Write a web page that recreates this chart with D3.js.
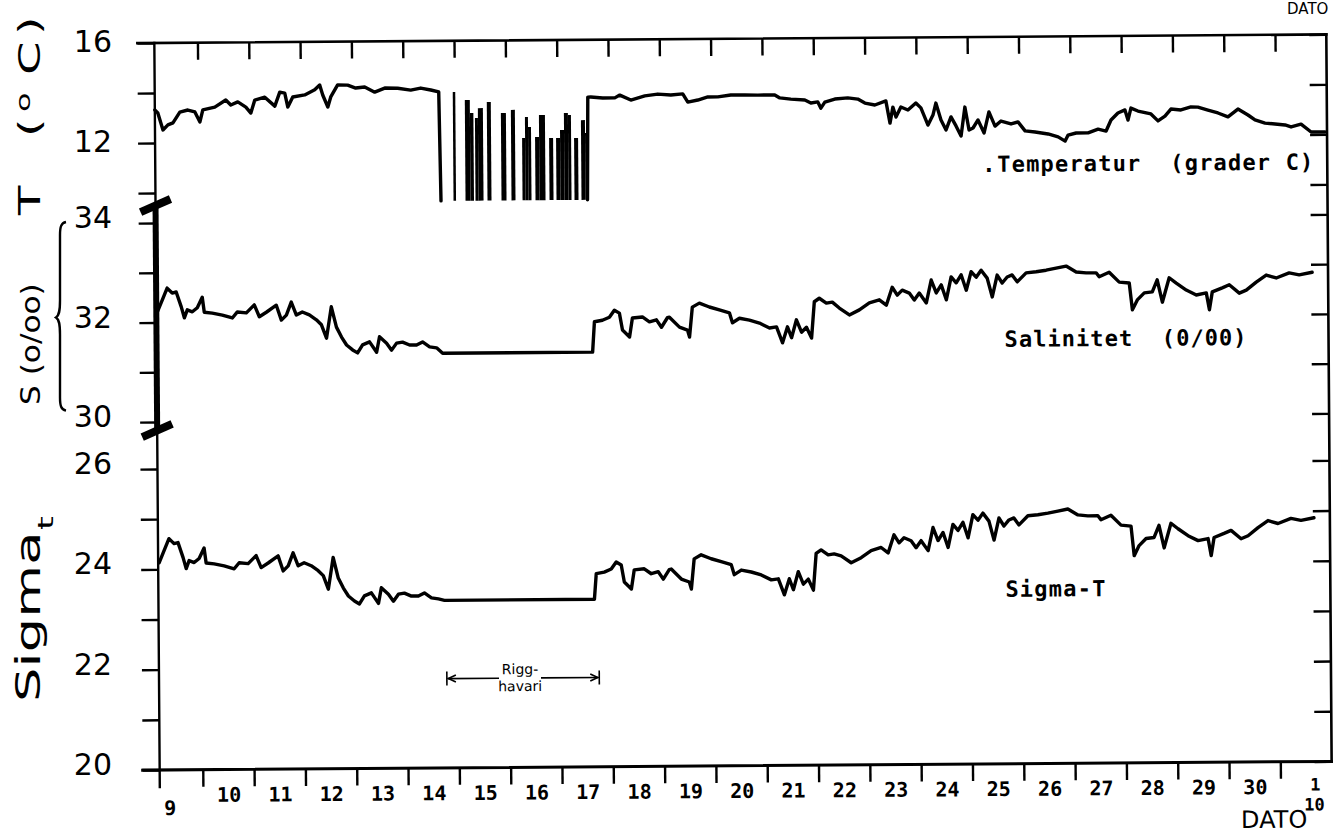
<!DOCTYPE html>
<html><head><meta charset="utf-8">
<script src="https://cdn.jsdelivr.net/npm/d3@7"></script>
<style>
body{margin:0;background:#fff}
svg{display:block}
text{white-space:pre}
</style>
</head><body>
<svg id="chart" width="1333" height="833"></svg>
<script>
// ---------------- data ----------------
// time axis: day of September (Oct 1 = 31, Oct 2 = 32)
const dayTicks = d3.range(10, 32);             // midnight day boundaries
const dateLabels = ["10","11","12","13","14","15","16","17","18","19","20","21","22","23","24","25","26","27","28","29","30"];
const tempTicks = [16, 14, 12, 10];
const tempLabels = [16, 12];
const salTicks = [34, 33, 32, 31, 30];
const salLabels = [34, 32, 30];
const sigTicks = [26, 25, 24, 23, 22, 21, 20];
const sigLabels = [26, 24, 22, 20];
const riggPeriod = [14.77, 17.74];              // "Rigg-havari" (rig breakdown)

// Temperature (deg C); null = break in record
const temperature = [
 [9.160,13.32],[9.218,13.20],[9.316,12.52],[9.413,12.72],[9.511,12.80],[9.647,13.23],[9.803,13.31],[9.940,13.23],[10.037,12.83],[10.095,13.31],
 [10.329,13.42],[10.544,13.70],[10.641,13.50],[10.778,13.62],[10.934,13.41],[11.031,13.17],[11.109,13.69],[11.304,13.80],[11.499,13.44],[11.597,14.00],
 [11.694,13.96],[11.752,13.40],[11.850,13.80],[12.083,13.88],[12.278,14.08],[12.376,14.27],[12.434,13.87],[12.532,13.39],[12.590,13.79],[12.726,14.27],
 [12.921,14.26],[13.077,14.14],[13.253,14.18],[13.448,13.97],[13.643,14.13],[13.896,14.12],[14.149,14.04],[14.344,14.12],[14.539,14.04],[14.695,13.96],[14.724,9.6],
 null,
 [17.579,9.6],[17.599,13.71],[17.657,13.71],[17.891,13.67],[18.125,13.67],[18.223,13.78],[18.437,13.58],[18.710,13.74],[18.963,13.81],[19.217,13.77],
 [19.450,13.81],[19.548,13.48],[19.743,13.56],[19.938,13.68],[20.133,13.68],[20.386,13.75],[20.659,13.75],[20.912,13.74],[21.243,13.74],[21.341,13.62],
 [21.555,13.57],[21.828,13.53],[21.945,13.41],[22.081,13.45],[22.140,13.20],[22.218,13.44],[22.413,13.56],[22.666,13.60],[22.861,13.55],[22.998,13.39],
 [23.192,13.31],[23.407,13.47],[23.485,12.58],[23.543,13.22],[23.602,12.82],[23.699,13.22],[23.836,13.10],[23.991,13.38],[24.089,13.18],[24.225,12.49],
 [24.323,12.89],[24.381,13.37],[24.479,12.69],[24.576,12.29],[24.674,12.81],[24.771,12.45],[24.868,12.04],[24.946,13.20],[25.024,12.28],[25.102,12.36],
 [25.200,12.68],[25.317,12.16],[25.414,13.00],[25.531,12.43],[25.648,12.63],[25.843,12.51],[25.979,12.59],[26.116,12.23],[26.311,12.18],[26.564,12.10],
 [26.759,11.98],[26.895,11.81],[26.954,12.05],[27.110,12.13],[27.344,12.13],[27.539,12.28],[27.695,12.20],[27.792,12.64],[27.928,12.92],[28.065,13.04],
 [28.123,12.63],[28.182,13.11],[28.318,12.99],[28.571,12.87],[28.708,12.59],[28.844,12.78],[28.961,13.06],[29.156,13.02],[29.351,13.14],[29.487,13.13],
 [29.682,13.01],[29.877,12.89],[30.072,12.73],[30.267,13.04],[30.462,12.80],[30.598,12.60],[30.793,12.47],[30.988,12.43],[31.183,12.39],[31.300,12.31],
 [31.495,12.42],[31.690,12.10],[31.963,12.10]
];
// Temperature spikes during the rig breakdown: [from day, to day, top value]
const gapFloor = 9.6;
const gapBars = [
 [14.968,15.017,13.95],[15.202,15.299,13.63],[15.299,15.367,13.11],[15.397,15.455,12.91],[15.455,15.553,13.30],[15.630,15.708,13.54],
 [15.903,16.001,13.10],[16.098,16.176,13.22],[16.313,16.371,12.09],[16.371,16.430,12.93],[16.430,16.488,12.53],[16.566,16.644,12.13],
 [16.644,16.761,13.01],[16.839,16.917,12.08],[16.975,17.053,12.08],[17.053,17.131,12.40],[17.131,17.209,13.08],[17.209,17.268,13.00],
 [17.326,17.404,12.08],[17.462,17.540,12.79],[17.540,17.599,12.27]
];
// Salinity (o/oo)
const salinity = [
 [9.179,32.21],[9.277,32.45],[9.374,32.69],[9.472,32.59],[9.550,32.61],[9.647,32.31],[9.706,32.09],[9.764,32.25],[9.862,32.21],[9.959,32.29],
 [10.057,32.50],[10.095,32.20],[10.251,32.18],[10.446,32.14],[10.641,32.08],[10.739,32.20],[10.914,32.18],[11.070,32.34],[11.167,32.10],[11.304,32.19],
 [11.499,32.33],[11.596,32.03],[11.694,32.13],[11.791,32.39],[11.889,32.13],[12.005,32.19],[12.142,32.13],[12.278,32.03],[12.376,31.93],[12.473,31.66],
 [12.571,32.29],[12.668,31.88],[12.766,31.68],[12.863,31.52],[12.980,31.42],[13.077,31.36],[13.175,31.52],[13.311,31.58],[13.448,31.37],[13.506,31.68],
 [13.643,31.55],[13.740,31.41],[13.838,31.55],[13.954,31.57],[14.091,31.51],[14.227,31.51],[14.344,31.57],[14.481,31.47],[14.617,31.45],[14.734,31.34],
 [17.657,31.34],[17.696,31.95],[17.852,31.98],[17.989,32.04],[18.086,32.18],[18.184,32.12],[18.242,31.78],[18.379,31.64],[18.437,32.02],[18.632,32.04],
 [18.768,31.94],[18.905,31.98],[19.002,31.83],[19.119,32.02],[19.158,32.03],[19.353,31.83],[19.509,31.77],[19.548,31.63],[19.606,32.23],[19.743,32.31],
 [19.938,32.23],[20.133,32.17],[20.328,32.11],[20.386,31.91],[20.523,32.00],[20.717,31.96],[20.912,31.90],[21.107,31.80],[21.244,31.82],[21.360,31.50],
 [21.458,31.82],[21.536,31.60],[21.633,31.96],[21.731,31.71],[21.828,31.81],[21.926,31.59],[21.984,32.32],[22.081,32.39],[22.218,32.29],[22.335,32.31],
 [22.471,32.19],[22.666,32.05],[22.861,32.15],[23.056,32.29],[23.251,32.35],[23.387,32.24],[23.504,32.60],[23.602,32.44],[23.699,32.54],[23.836,32.48],
 [23.933,32.34],[24.031,32.48],[24.167,32.28],[24.265,32.74],[24.362,32.48],[24.460,32.64],[24.557,32.34],[24.654,32.80],[24.752,32.68],[24.849,32.84],
 [24.947,32.53],[25.044,32.90],[25.142,32.79],[25.239,32.93],[25.356,32.77],[25.453,32.39],[25.551,32.83],[25.648,32.67],[25.746,32.79],[25.843,32.83],
 [25.941,32.69],[26.116,32.87],[26.311,32.89],[26.506,32.92],[26.701,32.96],[26.896,33.00],[27.091,32.88],[27.285,32.86],[27.480,32.86],[27.539,32.78],
 [27.734,32.87],[27.929,32.67],[28.124,32.65],[28.182,32.11],[28.279,32.31],[28.416,32.45],[28.572,32.47],[28.669,32.71],[28.767,32.26],[28.903,32.75],
 [29.040,32.64],[29.234,32.50],[29.429,32.40],[29.624,32.44],[29.683,32.10],[29.741,32.46],[29.936,32.54],[30.073,32.60],[30.267,32.43],[30.404,32.49],
 [30.599,32.65],[30.794,32.79],[30.989,32.73],[31.242,32.83],[31.437,32.79],[31.690,32.84]
];
// Sigma-t
const sigmaT = [
 [9.179,24.13],[9.277,24.37],[9.374,24.61],[9.472,24.51],[9.550,24.53],[9.647,24.23],[9.706,24.01],[9.764,24.17],[9.862,24.13],[9.959,24.21],
 [10.057,24.42],[10.095,24.12],[10.251,24.10],[10.446,24.06],[10.641,24.00],[10.739,24.12],[10.914,24.10],[11.070,24.26],[11.167,24.02],[11.304,24.11],
 [11.499,24.25],[11.596,23.95],[11.694,24.05],[11.791,24.31],[11.889,24.05],[12.005,24.11],[12.142,24.05],[12.278,23.95],[12.376,23.85],[12.473,23.58],
 [12.571,24.21],[12.668,23.80],[12.766,23.60],[12.863,23.44],[12.980,23.34],[13.077,23.28],[13.175,23.44],[13.311,23.50],[13.448,23.29],[13.506,23.60],
 [13.643,23.47],[13.740,23.33],[13.838,23.47],[13.954,23.49],[14.091,23.43],[14.227,23.43],[14.344,23.49],[14.481,23.39],[14.617,23.37],[14.734,23.34],
 [17.657,23.34],[17.696,23.85],[17.852,23.88],[17.989,23.94],[18.086,24.08],[18.184,24.02],[18.242,23.68],[18.379,23.54],[18.437,23.92],[18.632,23.94],
 [18.768,23.84],[18.905,23.88],[19.002,23.73],[19.119,23.92],[19.158,23.93],[19.353,23.73],[19.509,23.67],[19.548,23.53],[19.606,24.13],[19.743,24.21],
 [19.938,24.13],[20.133,24.07],[20.328,24.01],[20.386,23.81],[20.523,23.90],[20.717,23.86],[20.912,23.80],[21.107,23.70],[21.244,23.72],[21.360,23.40],
 [21.458,23.72],[21.536,23.50],[21.633,23.86],[21.731,23.61],[21.828,23.71],[21.926,23.49],[21.984,24.22],[22.081,24.29],[22.218,24.19],[22.335,24.21],
 [22.471,24.17],[22.666,24.03],[22.861,24.13],[23.056,24.27],[23.251,24.33],[23.387,24.22],[23.504,24.58],[23.602,24.42],[23.699,24.52],[23.836,24.46],
 [23.933,24.32],[24.031,24.46],[24.167,24.26],[24.265,24.72],[24.362,24.46],[24.460,24.62],[24.557,24.32],[24.654,24.78],[24.752,24.66],[24.849,24.82],
 [24.947,24.51],[25.044,24.97],[25.142,24.86],[25.239,25.00],[25.356,24.84],[25.453,24.46],[25.551,24.90],[25.648,24.74],[25.746,24.86],[25.843,24.90],
 [25.941,24.76],[26.116,24.94],[26.311,24.96],[26.506,24.99],[26.701,25.03],[26.896,25.07],[27.091,24.95],[27.285,24.93],[27.480,24.93],[27.539,24.85],
 [27.734,24.94],[27.929,24.74],[28.124,24.72],[28.182,24.13],[28.279,24.33],[28.416,24.47],[28.572,24.49],[28.669,24.73],[28.767,24.28],[28.903,24.77],
 [29.040,24.66],[29.234,24.52],[29.429,24.42],[29.624,24.46],[29.683,24.12],[29.741,24.48],[29.936,24.56],[30.073,24.62],[30.267,24.45],[30.404,24.51],
 [30.599,24.67],[30.794,24.81],[30.989,24.75],[31.242,24.85],[31.437,24.81],[31.690,24.86]
];

// ---------------- scales ----------------
const x  = d3.scaleLinear().domain([9.16, 32]).range([157, 1329]);
const yT = d3.scaleLinear().domain([10, 16]).range([193, 43]);
const yS = d3.scaleLinear().domain([30, 34]).range([422, 223]);
const yG = d3.scaleLinear().domain([20, 26]).range([770, 469]);

const svg = d3.select("#chart");
svg.append("rect").attr("width", 1333).attr("height", 833).attr("fill", "#fff");

// the scanned sheet is slightly rotated
const g = svg.append("g").attr("transform", "rotate(-0.42,157,406)");

const INK = "#000";
const TL = 17; // tick length
const left = x.range()[0], right = x.range()[1];

// ---------- frame ----------
const frame = g.append("g").attr("stroke", INK).attr("fill", "none").attr("stroke-linecap", "square");
frame.append("line").attr("x1", left - TL).attr("x2", right).attr("y1", yT(16)).attr("y2", yT(16)).attr("stroke-width", 2.6);
frame.append("line").attr("x1", left - TL).attr("x2", right).attr("y1", yG(20)).attr("y2", yG(20)).attr("stroke-width", 3);
frame.append("line").attr("x1", right).attr("x2", right).attr("y1", yT(16)).attr("y2", yG(20)).attr("stroke-width", 2.6);
frame.append("line").attr("x1", left).attr("x2", left).attr("y1", yT(16)).attr("y2", yG(20) + TL).attr("stroke-width", 2.4);
// thick salinity segment of the y axis
frame.append("line").attr("x1", left).attr("x2", left).attr("y1", yS(34.36)).attr("y2", yS(29.84)).attr("stroke-width", 6).attr("stroke-linecap", "butt");
// axis break marks
[yS(34.36), yS(29.84)].forEach(yy => {
  frame.append("line").attr("x1", left - 15).attr("y1", yy + 7).attr("x2", left + 15).attr("y2", yy - 6)
    .attr("stroke-width", 8).attr("stroke-linecap", "butt");
});

function styleAxis(sel) {
  sel.select(".domain").remove();
  sel.selectAll(".tick line").attr("stroke", INK).attr("stroke-width", 2.4);
  sel.selectAll(".tick text").remove();
}
// bottom & top day ticks
g.append("g").attr("transform", `translate(0,${yG(20)})`)
  .call(d3.axisBottom(x).tickValues(dayTicks).tickSize(TL).tickFormat(""))
  .call(styleAxis);
g.append("g").attr("transform", `translate(0,${yT(16)})`)
  .call(d3.axisTop(x).tickValues(dayTicks).tickSize(-TL).tickFormat(""))
  .call(styleAxis);
// left (outward) and right (inward) value ticks
[[yT, tempTicks], [yS, salTicks], [yG, sigTicks]].forEach(([sc, tv]) => {
  g.append("g").attr("transform", `translate(${left},0)`)
    .call(d3.axisLeft(sc).tickValues(tv).tickSize(TL).tickFormat("")).call(styleAxis);
  g.append("g").attr("transform", `translate(${right},0)`)
    .call(d3.axisRight(sc).tickValues(tv).tickSize(-TL).tickFormat("")).call(styleAxis);
});

// day labels (centred in each day)
g.append("g").attr("transform", `translate(0,${yG(20)})`)
  .call(d3.axisBottom(x).tickValues(dateLabels.map(s => +s + 0.5)).tickSize(0).tickPadding(18)
        .tickFormat((d, i) => dateLabels[i]))
  .call(s => s.select(".domain").remove())
  .call(s => s.selectAll("text").attr("font-family", "'DejaVu Sans Mono', monospace")
        .attr("font-weight", "bold").attr("font-size", 20).attr("fill", INK));
const startLab = g.append("g").attr("font-family", "'DejaVu Sans Mono', monospace").attr("font-weight", "bold")
  .attr("fill", INK).attr("text-anchor", "middle");
startLab.append("text").attr("x", x(9.36)).attr("y", 815).attr("font-size", 20).text("9");
startLab.append("text").attr("x", x(31.68)).attr("y", 799).attr("font-size", 17).text("1");
startLab.append("text").attr("x", x(31.66)).attr("y", 819).attr("font-size", 17).text("10");
g.append("text").attr("x", 1238).attr("y", 836).attr("font-family", "'DejaVu Sans', sans-serif")
  .attr("font-size", 24).attr("fill", INK).text("DATO");

// ---------- data ----------
const lineOf = (sc) => d3.line().defined(d => d !== null).x(d => x(d[0])).y(d => sc(d[1]));
const lines = g.append("g").attr("fill", "none").attr("stroke", INK).attr("stroke-width", 3.4)
  .attr("stroke-linejoin", "round").attr("stroke-linecap", "round");
lines.append("path").attr("d", lineOf(yT)(temperature));
lines.append("path").attr("d", lineOf(yS)(salinity));
lines.append("path").attr("d", lineOf(yG)(sigmaT));
g.append("g").attr("fill", INK).selectAll("rect").data(gapBars).join("rect")
  .attr("x", d => x(d[0])).attr("width", d => Math.max(2.4, x(d[1]) - x(d[0])))
  .attr("y", d => yT(d[2])).attr("height", d => yT(gapFloor) - yT(d[2]));

// series labels
const lab = g.append("g").attr("font-family", "'DejaVu Sans Mono', monospace").attr("font-weight", "bold")
  .attr("font-size", 22).attr("fill", INK);
lab.append("text").attr("x", 984).attr("y", 178).text(".");
lab.append("text").attr("x", 999).attr("y", 178).attr("textLength", 316).text("Temperatur  (grader C)");
lab.append("text").attr("x", 1005).attr("y", 353).attr("textLength", 242).text("Salinitet  (0/00)");
lab.append("text").attr("x", 1004).attr("y", 603).attr("textLength", 100).text("Sigma-T");

// Rigg-havari annotation
const ry = yG(21.78), rx0 = x(riggPeriod[0]), rx1 = x(riggPeriod[1]);
const ann = g.append("g").attr("stroke", INK).attr("stroke-width", 1.6).attr("fill", "none");
ann.append("line").attr("x1", rx0).attr("x2", rx0).attr("y1", ry - 7).attr("y2", ry + 7);
ann.append("line").attr("x1", rx1).attr("x2", rx1).attr("y1", ry - 7).attr("y2", ry + 7);
ann.append("line").attr("x1", rx0 + 1).attr("x2", 497).attr("y1", ry).attr("y2", ry);
ann.append("line").attr("x1", 539).attr("x2", rx1 - 1).attr("y1", ry).attr("y2", ry);
ann.append("path").attr("d", `M${rx0 + 9},${ry - 3.5}L${rx0 + 1.5},${ry}L${rx0 + 9},${ry + 3.5}`);
ann.append("path").attr("d", `M${rx1 - 9},${ry - 3.5}L${rx1 - 1.5},${ry}L${rx1 - 9},${ry + 3.5}`);
const annT = g.append("g").attr("font-family", "'DejaVu Sans', sans-serif").attr("font-size", 14)
  .attr("fill", INK).attr("text-anchor", "middle");
annT.append("text").attr("x", (rx0 + rx1) / 2 - 3).attr("y", ry - 4).text("Rigg-");
annT.append("text").attr("x", (rx0 + rx1) / 2 - 3).attr("y", ry + 13).text("havari");

// ---------- left-side labels (outside the rotated frame) ----------
const yl = svg.append("g").attr("font-family", "'DejaVu Sans', sans-serif").attr("font-size", 30)
  .attr("fill", INK).attr("text-anchor", "end");
tempLabels.forEach(v => yl.append("text").attr("x", 112).attr("y", yT(v) + 9).text(v));
salLabels.forEach(v => yl.append("text").attr("x", 112).attr("y", yS(v) + 5).text(v));
sigLabels.forEach(v => yl.append("text").attr("x", 112).attr("y", yG(v) + 5).text(v));

// T (°C)
const tt = svg.append("text").attr("transform", "translate(40,215) rotate(-90) scale(1.6,1)")
  .attr("font-family", "'DejaVu Sans', sans-serif").attr("font-size", 30).attr("fill", INK);
tt.append("tspan").attr("x", 0).text("T");
tt.append("tspan").attr("x", 48.75).text("(");
tt.append("tspan").attr("x", 64.4).attr("dy", -10).attr("font-size", 20).text("o");
tt.append("tspan").attr("x", 87.5).attr("dy", 10).text("C");
tt.append("tspan").attr("x", 112.5).text(")");

// S (o/oo) with brace
svg.append("text").attr("transform", "translate(40,405) rotate(-90) scale(1.2,1)")
  .attr("font-family", "'DejaVu Sans', sans-serif").attr("font-size", 26).attr("fill", INK)
  .text("S (o/oo)");
const bTop = yS(34) - 1, bMid = yS(32.1), bBot = yS(30.25);
svg.append("path").attr("fill", "none").attr("stroke", INK).attr("stroke-width", 2.4)
  .attr("d", `M66,${bTop} C61,${bTop + 1} 60,${bTop + 5} 60,${bTop + 13} L60,${bMid - 17} C60,${bMid - 6} 59,${bMid - 2} 56,${bMid}
             C59,${bMid + 2} 60,${bMid + 6} 60,${bMid + 17} L60,${bBot - 12} C60,${bBot - 4} 61,${bBot} 66,${bBot + 1}`);

// Sigma_t
const st = svg.append("text").attr("transform", "translate(40,702) rotate(-90) scale(1.6,1)")
  .attr("font-family", "'DejaVu Sans', sans-serif").attr("font-size", 34).attr("fill", INK);
st.append("tspan").attr("x", 0).text("Sigma");
st.append("tspan").attr("x", 107.5).attr("dy", 13).attr("font-size", 22).text("t");

// fragment of the previous figure's caption at the top edge
svg.append("text").attr("x", 1287).attr("y", 14).attr("font-family", "'DejaVu Sans', sans-serif")
  .attr("font-size", 15).attr("fill", INK).text("DATO");
</script>
</body></html>
